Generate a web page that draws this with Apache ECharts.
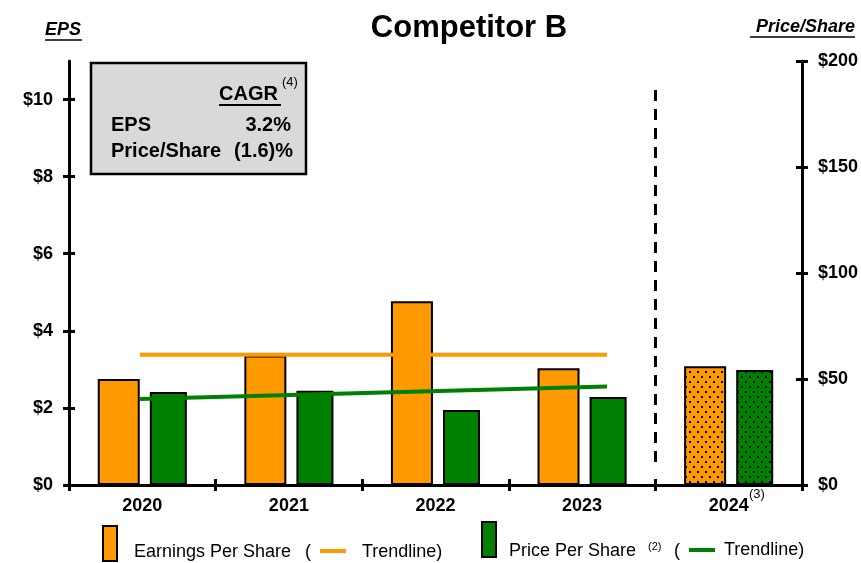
<!DOCTYPE html>
<html>
<head>
<meta charset="utf-8">
<script src="https://cdn.jsdelivr.net/npm/echarts@6/dist/echarts.min.js"></script>
<style>
  html, body { margin: 0; padding: 0; background: #fff; }
  #chart { width: 861px; height: 563px; }
</style>
</head>
<body>
<div id="chart"></div>
<script>
// Fiscal years on the category axis; the last one is an estimate (dotted bars)
const years = ['2020', '2021', '2022', '2023', '2024'];
const estimateYear = '2024';

// Earnings per share (left axis, $)
const epsValues = [2.75, 3.36, 4.77, 3.03, 3.08];
// Price per share (right axis, $)
const priceValues = [43.9, 44.5, 35.4, 41.5, 54.2];

// Trendline end points (first and last historical year)
const trendPoints = ['2020', '2023'];
const epsTrend = [3.38, 3.38];
const priceTrend = [40.6, 46.5];

// Axis tick values
const epsTicks = [0, 2, 4, 6, 8, 10];
const priceTicks = [0, 50, 100, 150, 200];

// CAGR summary
const cagrRows = [
  ['EPS', '3.2%'],
  ['Price/Share', '(1.6)%']
];

const ORANGE = '#FF9900';
const GREEN = '#008000';
const FONT = '"Liberation Sans", Arial, sans-serif';

// Dotted fill for estimated values
function dotted(base) {
  const c = document.createElement('canvas');
  c.width = 8; c.height = 10;
  const g = c.getContext('2d');
  g.fillStyle = base; g.fillRect(0, 0, 8, 10);
  g.fillStyle = '#000';
  g.fillRect(1, 1, 2, 2);
  g.fillRect(5, 6, 2, 2);
  return { image: c, repeat: 'repeat' };
}

function barData(values, base) {
  return values.map((v, i) => years[i] === estimateYear
    ? { value: v, itemStyle: { color: dotted(base) } }
    : v);
}

const axisLineStyle = { color: '#000', width: 3 };
const tickStyle = { color: '#000', width: 3 };
const labelStyle = { fontFamily: FONT, fontWeight: 'bold', fontSize: 18, color: '#000' };

function txt(text, x, y, font, align) {
  return {
    type: 'text', x: x, y: y, z: 20,
    style: {
      text: text, font: font, fill: '#000',
      align: align || 'left', verticalAlign: 'middle',
      textAlign: align || 'left', textVerticalAlign: 'middle'
    }
  };
}
function hline(x1, x2, y, color, w) {
  return { type: 'line', z: 20, shape: { x1: x1, y1: y, x2: x2, y2: y }, style: { stroke: color, lineWidth: w } };
}

const chart = echarts.init(document.getElementById('chart'), null, { renderer: 'canvas' });

const bold20 = 'bold 20px ' + FONT;
const graphics = [
  // axis captions
  txt('EPS', 45, 30, 'italic bold 18px ' + FONT),
  hline(45, 82, 40, '#000', 1.5),
  txt('Price/Share', 855, 27, 'italic bold 18px ' + FONT, 'right'),
  hline(750, 855, 37, '#000', 1.5),
  // CAGR box
  { type: 'rect', z: 15, shape: { x: 91, y: 63, width: 215, height: 111 },
    style: { fill: '#D9D9D9', stroke: '#000', lineWidth: 2.5 } },
  txt('CAGR', 219, 94, bold20),
  hline(219, 281, 105, '#000', 2),
  txt('(4)', 282, 82, '13px ' + FONT),
  txt(cagrRows[0][0], 111, 125, bold20),
  txt(cagrRows[0][1], 291, 125, bold20, 'right'),
  txt(cagrRows[1][0], 111, 151, bold20),
  txt(cagrRows[1][1], 293, 151, bold20, 'right'),
  // divider between actual and estimated years
  { type: 'line', z: 20, shape: { x1: 655.5, y1: 90, x2: 655.5, y2: 467 },
    style: { stroke: '#000', lineWidth: 3, lineDash: [11, 8] } },
  txt('(3)', 749, 494, '13px ' + FONT),
  // legend
  { type: 'rect', z: 20, shape: { x: 103, y: 526, width: 14, height: 35 },
    style: { fill: ORANGE, stroke: '#000', lineWidth: 2 } },
  txt('Earnings Per Share', 134, 552, '18px ' + FONT),
  txt('(', 305, 552, '18px ' + FONT),
  hline(320, 346, 551, ORANGE, 4),
  txt('Trendline)', 362, 552, '18px ' + FONT),
  { type: 'rect', z: 20, shape: { x: 482, y: 522, width: 14, height: 35 },
    style: { fill: GREEN, stroke: '#000', lineWidth: 2 } },
  txt('Price Per Share', 509, 551, '18px ' + FONT),
  txt('(2)', 648, 547, '11px ' + FONT),
  txt('(', 674, 551, '18px ' + FONT),
  hline(689, 715, 550, GREEN, 4),
  txt('Trendline)', 724, 550, '18px ' + FONT)
];

const option = {
  animation: false,
  backgroundColor: '#fff',
  title: {
    text: 'Competitor B',
    left: 464, top: 8, textAlign: 'center',
    textStyle: { fontFamily: FONT, fontWeight: 'bold', fontSize: 31, color: '#000' }
  },
  grid: [
    { left: 69, right: 59, top: 61, bottom: 78 },
    { left: 140, right: 254, top: 61, bottom: 78 }
  ],
  xAxis: [
    {
      type: 'category', gridIndex: 0, data: years, position: 'bottom',
      axisLine: { show: true, lineStyle: axisLineStyle },
      axisTick: { show: true, length: 6, lineStyle: tickStyle },
      axisLabel: Object.assign({ margin: 12 }, labelStyle),
      splitLine: { show: false }
    },
    {
      type: 'category', gridIndex: 0, data: years, position: 'bottom',
      axisLine: { show: false },
      axisTick: { show: true, inside: true, length: 6, lineStyle: tickStyle },
      axisLabel: { show: false },
      splitLine: { show: false }
    },
    { type: 'category', gridIndex: 1, data: trendPoints, boundaryGap: false, show: false }
  ],
  yAxis: [
    {
      type: 'value', gridIndex: 0, position: 'left', min: 0, max: 11,
      axisLine: { show: true, lineStyle: axisLineStyle },
      axisTick: { show: true, length: 6, lineStyle: tickStyle, customValues: epsTicks },
      axisLabel: Object.assign({ margin: 16, customValues: epsTicks, formatter: v => '$' + v }, labelStyle),
      splitLine: { show: false }
    },
    {
      type: 'value', gridIndex: 0, position: 'left', min: 0, max: 11,
      axisLine: { show: false },
      axisTick: { show: true, inside: true, length: 6, lineStyle: tickStyle, customValues: epsTicks },
      axisLabel: { show: false },
      splitLine: { show: false }
    },
    {
      type: 'value', gridIndex: 0, position: 'right', min: 0, max: 200, interval: 50,
      axisLine: { show: true, lineStyle: axisLineStyle },
      axisTick: { show: true, length: 6, lineStyle: tickStyle, customValues: priceTicks },
      axisLabel: Object.assign({ margin: 16, customValues: priceTicks, formatter: v => '$' + v }, labelStyle),
      splitLine: { show: false }
    },
    {
      type: 'value', gridIndex: 0, position: 'right', min: 0, max: 200, interval: 50,
      axisLine: { show: false },
      axisTick: { show: true, inside: true, length: 6, lineStyle: tickStyle, customValues: priceTicks },
      axisLabel: { show: false },
      splitLine: { show: false }
    },
    { type: 'value', gridIndex: 1, min: 0, max: 11, show: false },
    { type: 'value', gridIndex: 1, min: 0, max: 200, show: false }
  ],
  series: [
    {
      name: 'Earnings Per Share', type: 'bar', xAxisIndex: 0, yAxisIndex: 0,
      barWidth: 42, barGap: '24%', z: 2,
      itemStyle: { color: ORANGE, borderColor: '#000', borderWidth: 2 },
      data: barData(epsValues, ORANGE)
    },
    {
      name: 'Price Per Share', type: 'bar', xAxisIndex: 0, yAxisIndex: 2,
      barWidth: 37, z: 2,
      itemStyle: { color: GREEN, borderColor: '#000', borderWidth: 2 },
      data: barData(priceValues, GREEN)
    },
    {
      name: 'EPS Trendline', type: 'line', xAxisIndex: 2, yAxisIndex: 4,
      symbol: 'none', z: 5, silent: true,
      lineStyle: { color: ORANGE, width: 4 },
      data: epsTrend
    },
    {
      name: 'Price Trendline', type: 'line', xAxisIndex: 2, yAxisIndex: 5,
      symbol: 'none', z: 5, silent: true,
      lineStyle: { color: GREEN, width: 4 },
      data: priceTrend
    }
  ],
  graphic: graphics
};

chart.setOption(option);
</script>
</body>
</html>
